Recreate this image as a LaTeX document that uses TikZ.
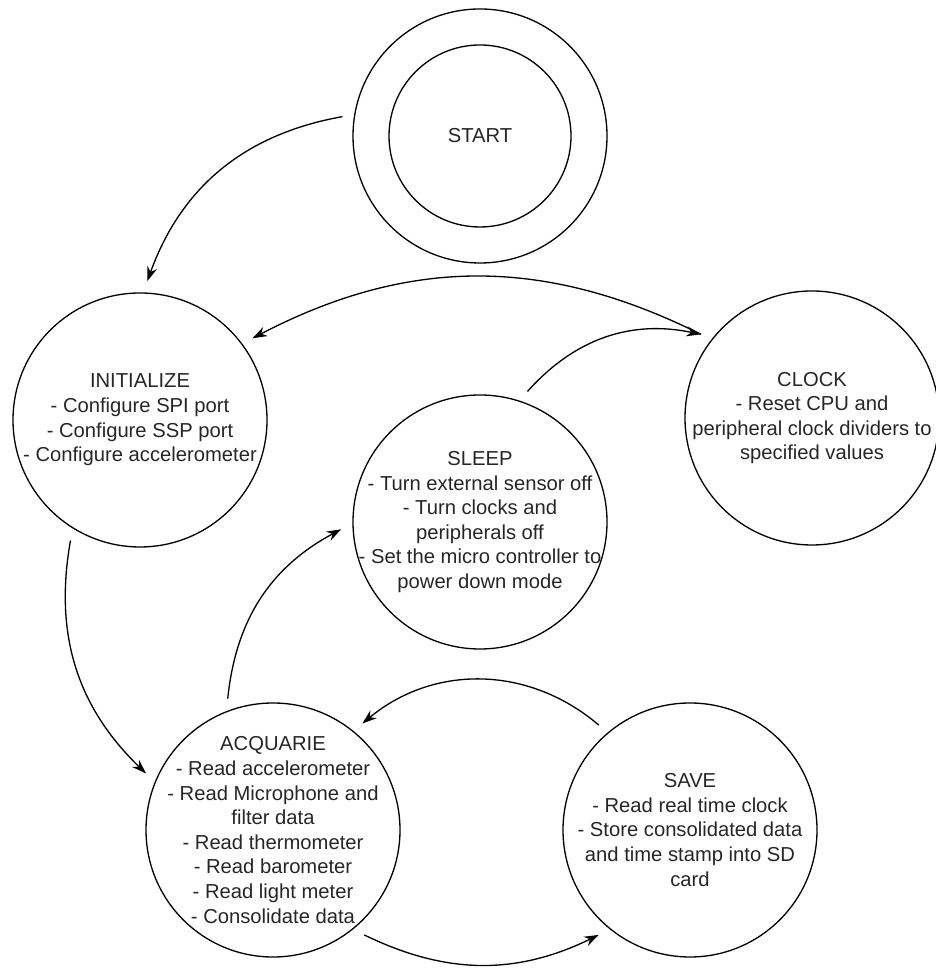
\documentclass[tikz,border=0pt]{standalone}
\usepackage{fontspec}
\setmainfont{Liberation Sans}
\usetikzlibrary{arrows.meta}

\begin{document}
\begin{tikzpicture}[font=\fontsize{11.5}{14}\selectfont,
  state/.style={circle, draw, line width=0.75pt, minimum size=5.08cm, inner sep=0pt, outer sep=0.24cm},
  txt/.style={align=center, text=black!85, inner sep=0pt},
  >={Stealth[length=2.9mm, width=2mm]}]
\useasboundingbox (0,0) rectangle (18.7,19.38);
\node[state] (start) at (9.6,16.66) {};
\node[circle, draw, line width=0.75pt, minimum size=3.64cm, text=black!85] (startin) at (start) {START};
\node[state] (init) at (2.8,10.98) {};
\node[state] (clock) at (16.24,11.02) {};
\node[state] (sleep) at (9.6,8.94) {};
\node[state] (acq) at (5.46,2.78) {};
\node[state] (save) at (13.8,2.78) {};
\node[txt] (initt) at (init) {INITIALIZE\\- Configure SPI port\\- Configure SSP port\\- Configure accelerometer};
\node[txt] (clockt) at (clock) {CLOCK\\- Reset CPU and\\peripheral clock dividers to\\specified values};
\node[txt] (sleept) at (sleep) {SLEEP\\- Turn external sensor off\\- Turn clocks and\\peripherals off\\- Set the micro controller to\\power down mode};
\node[txt] (acqt) at (acq) {ACQUARIE\\- Read accelerometer\\- Read Microphone and\\filter data\\- Read thermometer\\- Read barometer\\- Read light meter\\- Consolidate data};
\node[txt] (savet) at (save) {SAVE\\- Read real time clock\\- Store consolidated data\\and time stamp into SD\\card};
\draw[->, line width=0.75pt] (start.172) to[bend right=30] (init.87);
\draw[->, line width=0.75pt] (clock.143) to[bend right=27] (init.36);
\draw[->, line width=0.75pt] (sleep.70) to[bend left=30] (clock.143);
\draw[->, line width=0.75pt] (init.240) to[bend right=28] (acq.156);
\draw[->, line width=0.75pt] (acq.109) to[bend left=28] (sleep.183);
\draw[->, line width=0.75pt] (save.131) to[bend right=40] (acq.50);
\draw[->, line width=0.75pt] (acq.-49) to[bend right=26] (save.-131);
\end{tikzpicture}
\end{document}
